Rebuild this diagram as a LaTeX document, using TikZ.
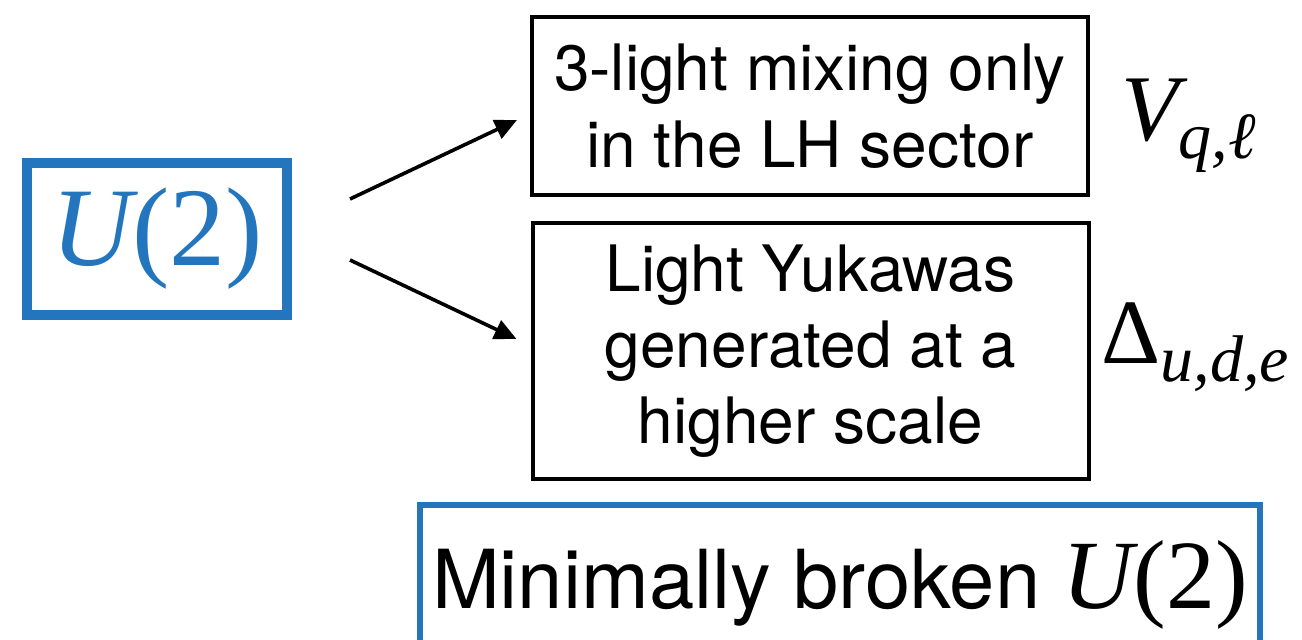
\documentclass[tikz,border=0pt]{standalone}
\usepackage{fontspec}
\usepackage{xcolor}
\usepackage{tikz}
\usetikzlibrary{arrows.meta}
\setmainfont{TeX Gyre Heros}
\newfontfamily\timesfont{Liberation Serif}
\definecolor{u2blue}{RGB}{35,118,190}
\newcommand{\tms}[1]{{\timesfont #1}}

\begin{document}
\begin{tikzpicture}[x=0.5pt,y=0.5pt,yscale=-1,xscale=1,
  blackbox/.style={draw,line width=2pt,inner sep=0pt,align=center,minimum width=278pt},
  bluebox/.style={draw=u2blue,inner sep=0pt,align=center},
  arr/.style={line width=1.8pt,-{Triangle[length=11pt,width=10pt]}}]

\useasboundingbox (0,0) rectangle (1302,639);

% left symmetry box
\node (u2) [bluebox,line width=5pt,minimum width=130pt,minimum height=76pt,text=u2blue,font=\fontsize{56}{60}\selectfont] at (157,239) {\tms{\itshape U}\tms{(2)}};

% two consequences
\node (mixing) [blackbox,minimum height=89pt,font=\fontsize{32}{38.5}\selectfont] at (810,106) {3-light mixing only\\in the LH sector};

\node (yukawas) [blackbox,minimum height=128pt,font=\fontsize{32}{38}\selectfont] at (810.5,351) {Light Yukawas\\generated at a\\higher scale};

% labels
\node (vql) [anchor=base west,inner sep=0pt,font=\fontsize{47}{50}\selectfont] at (1121,140) {\tms{\itshape V}\raisebox{-9pt}{\fontsize{33}{35}\selectfont\tms{\itshape q,ℓ}}};

\node (delta) [anchor=base west,inner sep=0pt,font=\fontsize{46}{50}\selectfont] at (1101,363) {\tms{Δ}\raisebox{-9pt}{\fontsize{33}{35}\selectfont\tms{\itshape u,d,e}}};

% result
\node (broken) [bluebox,line width=3pt,minimum width=420pt,minimum height=80pt,font=\fontsize{40.7}{42}\selectfont] at (840,585) {Minimally broken \fontsize{49}{50}\selectfont\tms{\itshape U}\tms{(2)}};

\draw[arr] ([xshift=29pt,yshift=-20pt]u2.east) -- ([xshift=-6.5pt,yshift=7pt]mixing.west);
\draw[arr] ([xshift=29pt,yshift=10.5pt]u2.east) -- ([xshift=-7pt,yshift=-6pt]yukawas.west);

\end{tikzpicture}
\end{document}
